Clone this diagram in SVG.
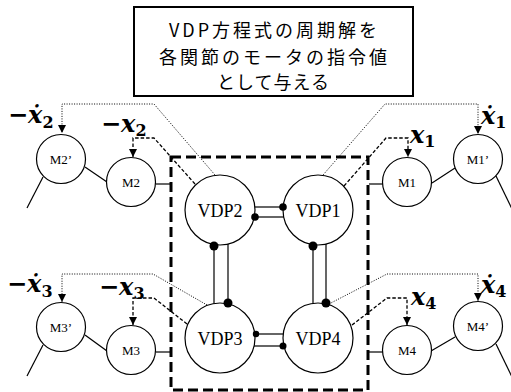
<svg xmlns="http://www.w3.org/2000/svg" width="511" height="392" viewBox="0 0 511 392">
<defs>
<style>
.bg{fill:#fff}
.node{fill:#fff;stroke:#000;stroke-width:1.2}
.ln{fill:none;stroke:#000;stroke-width:1.2}
.dot{fill:#000}
.dotted{fill:none;stroke:#000;stroke-width:1;stroke-dasharray:1 1.5}
.dashed{fill:none;stroke:#000;stroke-width:1.3;stroke-dasharray:3.5 2}
.frame{fill:none;stroke:#000;stroke-width:3;stroke-dasharray:10 5}
.title{fill:#fff;stroke:#000;stroke-width:2}
.tt{font-family:"Noto Sans CJK JP","Noto Sans",sans-serif;font-size:18px;fill:#000;text-anchor:middle}
.vt{font-family:"Liberation Serif","Times New Roman",serif;font-size:18px;fill:#000;text-anchor:middle}
.mt{font-family:"Liberation Serif","Times New Roman",serif;font-size:13px;fill:#000;text-anchor:middle}
.ml{font-family:"DejaVu Serif",serif;font-weight:bold;font-size:24px;fill:#000}
.mi{font-style:italic}
.ms{font-size:16px;font-style:normal}
</style>
<marker id="ah" markerWidth="8" markerHeight="8" refX="8" refY="4" orient="auto" markerUnits="userSpaceOnUse"><path d="M0,0 L8,4 L0,8 z" fill="#000"/></marker>
</defs>
<rect class="bg" x="0" y="0" width="511" height="392"/>

<g id="title">
<rect class="title" x="134" y="7" width="279" height="89"/>
<text class="tt" x="274.5" y="37" letter-spacing="3">VDP方程式の周期解を</text>
<text class="tt" x="274.5" y="63.5" letter-spacing="3">各関節のモータの指令値</text>
<text class="tt" x="273.5" y="89" letter-spacing="1">として与える</text>
</g>

<g id="cpg-frame">
<rect class="frame" x="171" y="157" width="197" height="233"/>
</g>

<g id="connectors">
<line class="ln" x1="43" y1="177" x2="27" y2="208"/>
<line class="ln" x1="85" y1="167" x2="107" y2="182"/>
<line class="ln" x1="156" y1="184" x2="171" y2="184"/>
<line class="ln" x1="496" y1="176" x2="512" y2="209"/>
<line class="ln" x1="432" y1="183" x2="455" y2="168"/>
<line class="ln" x1="369" y1="184" x2="383" y2="184"/>
<line class="ln" x1="43" y1="345" x2="27" y2="376"/>
<line class="ln" x1="85" y1="335" x2="107" y2="351"/>
<line class="ln" x1="156" y1="352" x2="171" y2="352"/>
<line class="ln" x1="496" y1="344" x2="512" y2="377"/>
<line class="ln" x1="431" y1="351" x2="455" y2="337"/>
<line class="ln" x1="369" y1="352" x2="383" y2="352"/>
<line class="ln" x1="255" y1="207" x2="283" y2="207"/>
<line class="ln" x1="254" y1="217" x2="284" y2="217"/>
<line class="ln" x1="214" y1="245" x2="214" y2="304"/>
<line class="ln" x1="228" y1="244" x2="228" y2="304"/>
<line class="ln" x1="313" y1="245" x2="313" y2="304"/>
<line class="ln" x1="326" y1="244" x2="326" y2="304"/>
<line class="ln" x1="255" y1="334" x2="283" y2="334"/>
<line class="ln" x1="254" y1="346" x2="284" y2="346"/>
<path class="dotted" d="M215,175 L154,104 L62,104 L62,133" marker-end="url(#ah)"/>
<path class="dashed" d="M195,184 L154,138 L133,138 L133,157" marker-end="url(#ah)"/>
<path class="dotted" d="M323,175 L385,104 L478,104 L478,134" marker-end="url(#ah)"/>
<path class="dashed" d="M344,186 L386,138 L408,138 L408,157" marker-end="url(#ah)"/>
<path class="dotted" d="M207,305 L153,274 L62,274 L62,302" marker-end="url(#ah)"/>
<path class="dashed" d="M187,324 L154,298 L133,298 L133,325" marker-end="url(#ah)"/>
<path class="dotted" d="M327,305 L387,274 L478,274 L478,301" marker-end="url(#ah)"/>
<path class="dashed" d="M352,325 L387,298 L407,298 L407,325" marker-end="url(#ah)"/>
</g>

<g id="VDP1"><circle class="node" cx="318" cy="210" r="35"/><text class="vt" x="318" y="217">VDP1</text></g>
<g id="VDP2"><circle class="node" cx="220" cy="210" r="35"/><text class="vt" x="220" y="217">VDP2</text></g>
<g id="VDP3"><circle class="node" cx="220" cy="338" r="35"/><text class="vt" x="220" y="345">VDP3</text></g>
<g id="VDP4"><circle class="node" cx="318" cy="338" r="35"/><text class="vt" x="318" y="345">VDP4</text></g>

<g id="coupling-dots">
<circle class="dot" cx="283" cy="207" r="3.8"/>
<circle class="dot" cx="255" cy="217" r="3.8"/>
<circle class="dot" cx="214" cy="246" r="4.5"/>
<circle class="dot" cx="228" cy="303" r="4.5"/>
<circle class="dot" cx="313" cy="246" r="4.5"/>
<circle class="dot" cx="326" cy="303" r="4.5"/>
<circle class="dot" cx="256" cy="334" r="3.2"/>
<circle class="dot" cx="283" cy="346" r="3.5"/>
</g>

<g id="M2p"><circle class="node" cx="61" cy="159" r="24.5"/><text class="mt" x="61" y="164">M2’</text></g>
<g id="M2"><circle class="node" cx="131" cy="182" r="24.5"/><text class="mt" x="131" y="187">M2</text></g>
<g id="M1"><circle class="node" cx="407" cy="182" r="24.5"/><text class="mt" x="407" y="187">M1</text></g>
<g id="M1p"><circle class="node" cx="478" cy="159" r="24.5"/><text class="mt" x="478" y="164">M1’</text></g>
<g id="M3p"><circle class="node" cx="61" cy="327" r="24.5"/><text class="mt" x="61" y="332">M3’</text></g>
<g id="M3"><circle class="node" cx="131" cy="350" r="24.5"/><text class="mt" x="131" y="355">M3</text></g>
<g id="M4"><circle class="node" cx="407" cy="350" r="24.5"/><text class="mt" x="407" y="355">M4</text></g>
<g id="M4p"><circle class="node" cx="478" cy="326" r="24.5"/><text class="mt" x="478" y="331">M4’</text></g>

<g id="labels">
<text class="ml" x="8" y="123">−<tspan class="mi">ẋ</tspan><tspan class="ms" dy="5">2</tspan></text>
<text class="ml" x="101" y="132">−<tspan class="mi">x</tspan><tspan class="ms" dy="4">2</tspan></text>
<text class="ml" x="481" y="124"><tspan class="mi">ẋ</tspan><tspan class="ms" dy="4">1</tspan></text>
<text class="ml" x="410" y="143"><tspan class="mi">x</tspan><tspan class="ms" dy="4">1</tspan></text>
<text class="ml" x="7" y="292">−<tspan class="mi">ẋ</tspan><tspan class="ms" dy="5">3</tspan></text>
<text class="ml" x="99" y="295">−<tspan class="mi">x</tspan><tspan class="ms" dy="4">3</tspan></text>
<text class="ml" x="481" y="293"><tspan class="mi">ẋ</tspan><tspan class="ms" dy="4">4</tspan></text>
<text class="ml" x="411" y="305"><tspan class="mi">x</tspan><tspan class="ms" dy="4">4</tspan></text>
</g>
</svg>
